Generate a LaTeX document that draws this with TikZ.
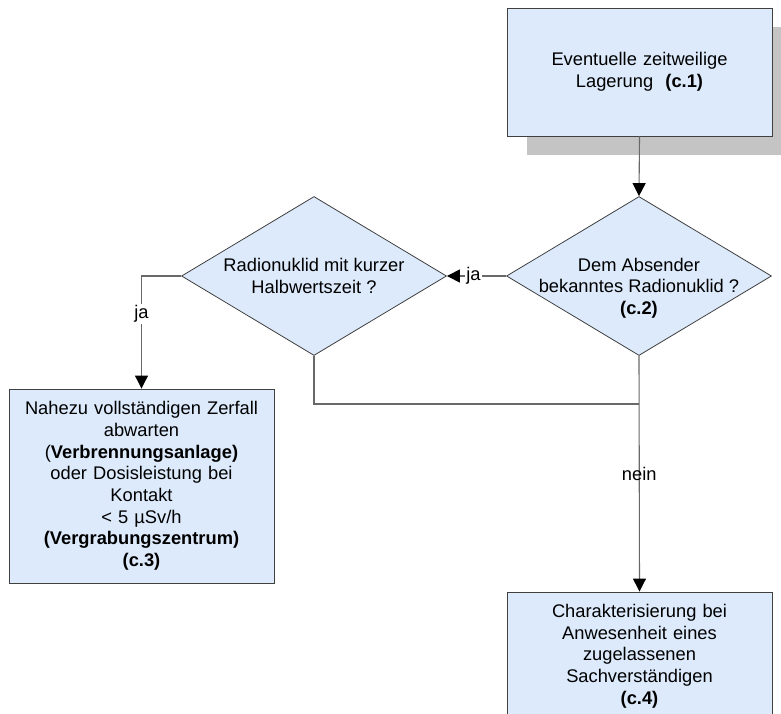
\documentclass[tikz,border=0pt]{standalone}
\usepackage{fontspec}
\setmainfont{Liberation Sans}
\usetikzlibrary{shapes.geometric,arrows.meta,calc}
\definecolor{boxfill}{RGB}{220,234,251}
\definecolor{boxline}{RGB}{64,64,64}
\definecolor{connc}{RGB}{105,105,105}
\definecolor{shadowgray}{RGB}{196,196,196}
\begin{document}
\begin{tikzpicture}[x=1pt,y=-1pt,
  every node/.style={font=\fontsize{18.3}{21.7}\selectfont},
  procbox/.style={draw=boxline, fill=boxfill, line width=0.9pt, minimum width=265pt, inner sep=0pt, align=center, text width=258pt},
  decision/.style={diamond, draw=boxline, fill=boxfill, line width=0.8pt, minimum width=265pt, minimum height=159pt, inner sep=0pt},
  txt/.style={align=center, inner sep=0pt},
  conn/.style={draw=connc, line width=1.1pt},
  arr/.style={conn, -{Triangle[length=13pt,width=13pt,black]}},
  lbl/.style={fill=white, inner sep=1.5pt}
]
\useasboundingbox (0,0) rectangle (781,714);
\clip (0,0) rectangle (781,714);
% shadow of c.1
\fill[shadowgray] (527,27) rectangle (792,155);
\node[procbox, minimum height=128pt] (c1) at (639.5,72) {Eventuelle zeitweilige\\Lagerung\ \ \textbf{(c.1)}};
\node[decision] (c2) at (639,276) {};
\node[txt] (t2) at (639,288) {Dem Absender\\bekanntes Radionuklid ?\\\textbf{(c.2)}};
\node[decision] (kd) at (314,276) {};
\node[txt] (tk) at (314,276) {Radionuklid mit kurzer\\Halbwertszeit ?};
\node[procbox, minimum height=194pt] (c3) at (141.5,486) {Nahezu vollständigen Zerfall\\abwarten\\(\textbf{Verbrennungsanlage)}\\oder Dosisleistung bei\\Kontakt\\< 5 µSv/h\\\textbf{(Vergrabungszentrum)}\\\textbf{(c.3)}};
\node[procbox, minimum height=128pt] (c4) at (639.5,656) {Charakterisierung bei\\Anwesenheit eines\\zugelassenen\\Sachverständigen\\\textbf{(c.4)}};
\coordinate (j) at (639,404);
\draw[arr] (c1.south) -- (c2.north);
\draw[arr] (c2.west) -- node[lbl, pos=0.55] (lja1) {ja} (kd.east);
\draw[arr] (kd.west) -| node[lbl, pos=0.67] (lja2) {ja} (c3.north);
\draw[conn] (kd.south) |- (j);
\draw[arr] (c2.south) -- node[pos=0.5] (lnein) {nein} (c4.north);
\end{tikzpicture}
\end{document}
